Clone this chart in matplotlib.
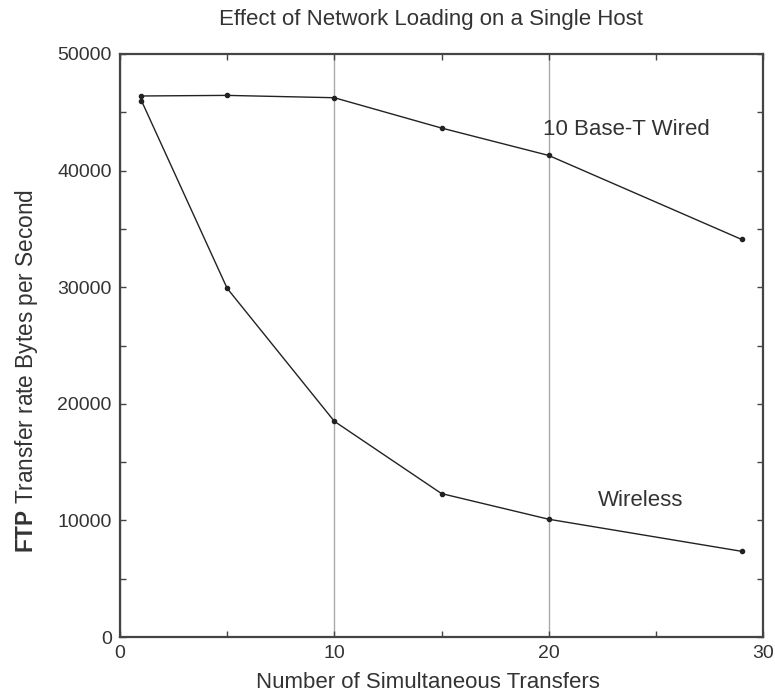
import matplotlib
matplotlib.use("Agg")
import matplotlib.pyplot as plt

plt.rcParams['font.family'] = ['Liberation Sans', 'DejaVu Sans']
plt.rcParams['mathtext.fontset'] = 'custom'
plt.rcParams['mathtext.rm'] = 'Liberation Sans'
plt.rcParams['mathtext.bf'] = 'Liberation Sans:bold'

transfers = [1, 5, 10, 15, 20, 29]
wired = [46400, 46450, 46250, 43650, 41300, 34100]
wireless = [46000, 29900, 18500, 12300, 10100, 7350]

title = "Effect of Network Loading on a Single Host"
xlabel = "Number of Simultaneous Transfers"
ylabel = r"$\mathbf{FTP}$ Transfer rate Bytes per Second"
label_wired = "10 Base-T Wired"
label_wireless = "Wireless"

W, H = 775, 695
fig = plt.figure(figsize=(W/100, H/100), dpi=100)
ax = fig.add_axes([120/W, 1 - 637/H, (763-120)/W, (637-54)/H])

txtc = '#333333'
ax.plot(transfers, wired, color='#222222', lw=1.0, marker='o', ms=3, zorder=3)
ax.plot(transfers, wireless, color='#222222', lw=1.0, marker='o', ms=3, zorder=3)

ax.set_xlim(0, 30)
ax.set_ylim(0, 50000)
ax.set_xticks([0, 10, 20, 30])
ax.set_xticks([5, 15, 25], minor=True)
ax.set_yticks([0, 10000, 20000, 30000, 40000, 50000])
ax.set_yticks([5000, 15000, 25000, 35000, 45000], minor=True)
ax.tick_params(which='both', direction='in', top=True, right=True, length=4,
               width=1, colors='#444444', labelcolor=txtc, labelsize=14, pad=6)
ax.xaxis.grid(True, which='major', color='#aaaaaa', lw=1)
for s in ax.spines.values():
    s.set_color('#444444')
    s.set_linewidth(1.6)

fig.text(431/W, 1 - 19/H, title, fontsize=16, color=txtc, ha='center', va='center')
fig.text(428/W, 1 - 683/H, xlabel, fontsize=16, color=txtc, ha='center', va='center')
fig.text(27/W, 1 - 371/H, ylabel, fontsize=16.3, color=txtc, ha='center', va='center',
         rotation=90)

ax.text(19.75, 43500, label_wired, fontsize=16, color=txtc, va='center', ha='left')
ax.text(22.3, 11700, label_wireless, fontsize=16, color=txtc, va='center', ha='left')

fig.savefig("out.png", dpi=100)
